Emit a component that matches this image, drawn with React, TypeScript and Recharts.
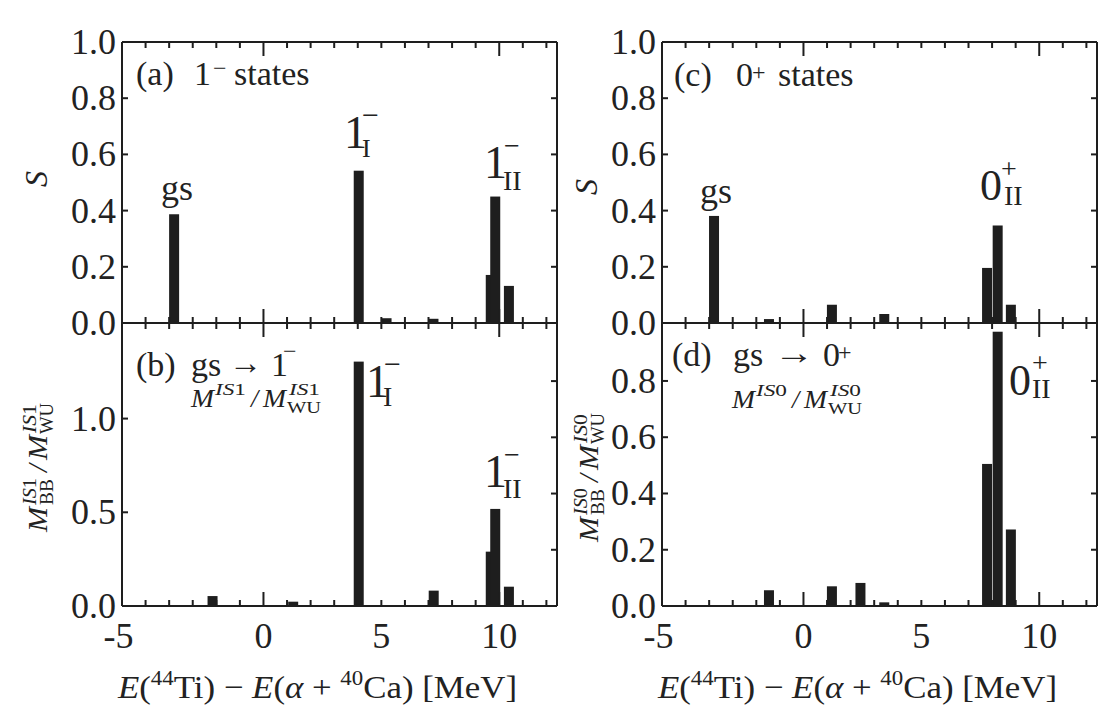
import React from 'react';
import { ComposedChart, Bar, XAxis, YAxis } from 'recharts';

// ---------- data ----------
const xTicks = [-6, -5, -4, -3, -2, -1, 0, 1, 2, 3, 4, 5, 6, 7, 8, 9, 10, 11, 12];
const xLabelTicks = [-5, 0, 5, 10];
const xMajorTicks = [0, 10];
const xDomain = [-6, 12.45];

// (a) 1- states : spectroscopic factor S
const aEnergy = [-3.78, 4.05, 5.23, 7.22, 9.65, 9.84, 10.42];
const aS = [0.387, 0.542, 0.017, 0.015, 0.171, 0.45, 0.132];

// (b) gs -> 1- : M_BB / M_WU
const bEnergy = [-2.15, 1.27, 4.05, 7.23, 9.65, 9.84, 10.42];
const bM = [0.053, 0.023, 1.304, 0.082, 0.29, 0.518, 0.103];

// (c) 0+ states : S
const cEnergy = [-3.78, -1.45, 1.22, 3.44, 7.8, 8.25, 8.81];
const cS = [0.381, 0.014, 0.065, 0.032, 0.196, 0.347, 0.065];

// (d) gs -> 0+ : M_BB / M_WU
const dEnergy = [-1.45, 1.22, 2.43, 3.44, 7.8, 8.25, 8.81];
const dM = [0.056, 0.07, 0.082, 0.013, 0.505, 0.975, 0.272];

const sTicks = [0, 0.2, 0.4, 0.6, 0.8, 1.0];
const sRightTicks = [0.2, 0.4, 0.6, 0.8];
const bLeftTicks = [0, 0.5, 1.0];
const bRightTicks = [0.3, 0.6, 0.9, 1.2];
const dLeftTicks = [0, 0.2, 0.4, 0.6, 0.8];

const toRows = (e: number[], v: number[]) => e.map((x, i) => ({ e: x, v: v[i] }));

// ---------- style ----------
const INK = '#1e1e1e';
const TXT = '#222';
const FONT = "'Liberation Serif', 'DejaVu Serif', serif";
const BAR_W = 10;

const renderXTick = (p: any, dir: number, labels: boolean) => {
  const v = p.payload.value;
  const len = xMajorTicks.includes(v) ? 14 : 6;
  let label = null;
  if (labels && xLabelTicks.includes(v)) {
    label =
      v === -5 ? (
        <text x={p.x - 12} y={p.y + 42} textAnchor="end" fontSize={36} fontFamily={FONT} fill={TXT}>
          -5
        </text>
      ) : (
        <text x={p.x} y={p.y + 42} textAnchor="middle" fontSize={36} fontFamily={FONT} fill={TXT}>
          {String(v)}
        </text>
      );
  }
  return (
    <g>
      <line x1={p.x} x2={p.x} y1={p.y} y2={p.y + dir * len} stroke={INK} strokeWidth={2} />
      {label}
    </g>
  );
};

const renderYTick = (p: any, dir: number, labels: boolean) => {
  const v = p.payload.value;
  return (
    <g>
      <line x1={p.x} x2={p.x + dir * 6} y1={p.y} y2={p.y} stroke={INK} strokeWidth={2} />
      {labels ? (
        <text x={p.x - 6} y={p.y + 12} textAnchor="end" fontSize={36} fontFamily={FONT} fill={TXT}>
          {Number(v).toFixed(1)}
        </text>
      ) : null}
    </g>
  );
};

// fixed-width bar centred on the library-computed bar position
const BarShape = (p: any) => {
  if (p.height == null || p.width == null) return <g />;
  const cx = p.x + p.width / 2;
  return <rect x={cx - BAR_W / 2} y={p.y} width={BAR_W} height={Math.max(p.height, 0)} fill={INK} />;
};

type PanelProps = {
  left: number;
  top: number;
  width: number;
  height: number;
  rows: { e: number; v: number }[];
  yMax: number;
  leftTicks: number[];
  rightTicks: number[];
  xLabels: boolean;
};

const Panel = ({ left, top, width, height, rows, yMax, leftTicks, rightTicks, xLabels }: PanelProps) => {
  const L = 100;
  const R = 10;
  const T = 30;
  const B = 60;
  const axisLine = { stroke: INK, strokeWidth: 2 };
  return (
    <div style={{ position: 'absolute', left: left - L, top: top - T }}>
      <ComposedChart
        width={width + L + R}
        height={height + T + B}
        data={rows}
        margin={{ top: 0, right: 0, bottom: 0, left: 0 }}
      >
        <XAxis
          xAxisId="b"
          dataKey="e"
          type="number"
          domain={xDomain}
          allowDataOverflow
          ticks={xTicks}
          interval={0}
          orientation="bottom"
          height={B}
          tickSize={0}
          tickMargin={0}
          tickLine={false}
          axisLine={axisLine}
          tick={(p: any) => renderXTick(p, -1, xLabels)}
        />
        <XAxis
          xAxisId="t"
          dataKey="e"
          type="number"
          domain={xDomain}
          allowDataOverflow
          ticks={xTicks}
          interval={0}
          orientation="top"
          height={T}
          tickSize={0}
          tickMargin={0}
          tickLine={false}
          axisLine={axisLine}
          tick={(p: any) => renderXTick(p, 1, false)}
        />
        <YAxis
          yAxisId="l"
          type="number"
          domain={[0, yMax]}
          allowDataOverflow
          ticks={leftTicks}
          interval={0}
          width={L}
          tickSize={0}
          tickMargin={0}
          tickLine={false}
          axisLine={axisLine}
          tick={(p: any) => renderYTick(p, 1, true)}
        />
        <YAxis
          yAxisId="r"
          orientation="right"
          type="number"
          domain={[0, yMax]}
          allowDataOverflow
          ticks={rightTicks}
          interval={0}
          width={R}
          tickSize={0}
          tickMargin={0}
          tickLine={false}
          axisLine={axisLine}
          tick={(p: any) => renderYTick(p, -1, false)}
        />
        <Bar
          xAxisId="b"
          yAxisId="l"
          dataKey="v"
          fill={INK}
          barSize={BAR_W}
          shape={BarShape}
          isAnimationActive={false}
        />
      </ComposedChart>
    </div>
  );
};

// ---------- text helpers ----------
const T = ({ x, y, s, i, children, a, len }: any) => (
  <text
    x={x}
    y={y}
    fontSize={s}
    fontStyle={i ? 'italic' : 'normal'}
    fontFamily={FONT}
    fill={TXT}
    textAnchor={a || 'start'}
    textLength={len}
    lengthAdjust={len ? 'spacingAndGlyphs' : undefined}
  >
    {children}
  </text>
);

const Sup = ({ x, y, s, n, len }: any) => (
  <text x={x} y={y} fontSize={s} fontFamily={FONT} fill={TXT} textLength={len} lengthAdjust="spacingAndGlyphs">
    <tspan fontStyle="italic">IS</tspan>
    {n}
  </text>
);

const Ratio = ({ x, y, n }: any) => (
  <g transform={`translate(${x},${y})`}>
    <T x={0} y={0} s={26} i len={23}>M</T>
    <Sup x={24} y={-12} s={17} n={n} len={31} />
    <T x={60} y={0} s={26} i>/</T>
    <T x={72} y={0} s={26} i len={23}>M</T>
    <Sup x={98} y={-12} s={17} n={n} len={31} />
    <T x={96} y={6} s={17} len={34}>WU</T>
  </g>
);

const RotRatio = ({ x, y, n }: any) => (
  <g transform={`translate(${x},${y}) rotate(-90)`}>
    <T x={0} y={0} s={28} i len={25}>M</T>
    <Sup x={27} y={-11} s={18} n={n} len={27} />
    <T x={27} y={6} s={18} len={26}>BB</T>
    <T x={60} y={0} s={28} i>/</T>
    <T x={72} y={0} s={28} i len={25}>M</T>
    <Sup x={99} y={-11} s={18} n={n} len={29} />
    <T x={98} y={6} s={18} len={31}>WU</T>
  </g>
);

const XTitle = ({ x }: any) => (
  <text
    x={x}
    y={698}
    fontSize={32}
    fontFamily={FONT}
    fill={TXT}
    textLength={399}
    lengthAdjust="spacingAndGlyphs"
  >
    <tspan fontStyle="italic">E</tspan>
    <tspan>(</tspan>
    <tspan dy={-13} fontSize={21}>44</tspan>
    <tspan dy={13}>Ti) − </tspan>
    <tspan fontStyle="italic">E</tspan>
    <tspan>(</tspan>
    <tspan fontStyle="italic">α</tspan>
    <tspan> + </tspan>
    <tspan dy={-13} fontSize={21}>40</tspan>
    <tspan dy={13}>Ca) [MeV]</tspan>
  </text>
);

const Overlay = () => (
  <svg
    width={1100}
    height={721}
    style={{ position: 'absolute', left: 0, top: 0, pointerEvents: 'none' }}
  >
    {/* panel (a) */}
    <T x={136} y={85} s={34}>(a)</T>
    <T x={194} y={85} s={34}>1</T>
    <T x={213} y={76} s={24}>−</T>
    <T x={234} y={85} s={34}>states</T>
    <T x={161} y={200} s={36}>gs</T>
    <T x={344} y={148} s={46}>1</T>
    <T x={362} y={157} s={26}>I</T>
    <T x={362} y={125} s={30}>−</T>
    <T x={484} y={178} s={46}>1</T>
    <T x={503} y={190} s={28}>II</T>
    <T x={504} y={155} s={28}>−</T>

    {/* panel (b) */}
    <T x={136} y={376} s={34}>(b)</T>
    <T x={191} y={376} s={34}>gs</T>
    <T x={229} y={374} s={34} len={33}>→</T>
    <T x={271} y={376} s={34}>1</T>
    <T x={283} y={359} s={24}>−</T>
    <Ratio x={191} y={407} n="1" />
    <T x={366} y={397} s={46}>1</T>
    <T x={383} y={406} s={28}>I</T>
    <T x={384} y={374} s={30}>−</T>
    <T x={484} y={487} s={46}>1</T>
    <T x={503} y={498} s={28}>II</T>
    <T x={504} y={464} s={28}>−</T>

    {/* panel (c) */}
    <T x={674} y={86} s={34}>(c)</T>
    <T x={736} y={86} s={34}>0</T>
    <T x={752} y={80} s={24}>+</T>
    <T x={778} y={86} s={34}>states</T>
    <T x={700} y={203} s={36}>gs</T>
    <T x={980} y={200} s={44}>0</T>
    <T x={1004} y={205} s={28}>II</T>
    <T x={1001} y={178} s={28}>+</T>

    {/* panel (d) */}
    <T x={672} y={366} s={34}>(d)</T>
    <T x={733} y={366} s={34}>gs</T>
    <T x={774} y={364} s={34} len={40}>→</T>
    <T x={823} y={366} s={34}>0</T>
    <T x={838} y={360} s={24}>+</T>
    <Ratio x={732} y={408} n="0" />
    <T x={1009} y={395} s={44}>0</T>
    <T x={1032} y={398} s={28}>II</T>
    <T x={1032} y={372} s={28}>+</T>

    {/* y titles */}
    <g transform="translate(47,187) rotate(-90)">
      <T x={0} y={0} s={32} i>S</T>
    </g>
    <g transform="translate(597,195) rotate(-90)">
      <T x={0} y={0} s={32} i>S</T>
    </g>
    <RotRatio x={47} y={532} n="1" />
    <RotRatio x={598} y={542} n="0" />

    {/* x titles */}
    <XTitle x={118} />
    <XTitle x={658} />
  </svg>
);

export default function App() {
  return (
    <div style={{ position: 'absolute', left: 0, top: 0, width: 1100, height: 721, background: '#fff' }}>
      <Panel left={122} top={42} width={435} height={281} rows={toRows(aEnergy, aS)} yMax={1.0} leftTicks={sTicks} rightTicks={sRightTicks} xLabels={false} />
      <Panel left={122} top={323} width={435} height={283} rows={toRows(bEnergy, bM)} yMax={1.51} leftTicks={bLeftTicks} rightTicks={bRightTicks} xLabels={true} />
      <Panel left={662} top={42} width={435} height={281} rows={toRows(cEnergy, cS)} yMax={1.0} leftTicks={sTicks} rightTicks={sRightTicks} xLabels={false} />
      <Panel left={662} top={323} width={435} height={283} rows={toRows(dEnergy, dM)} yMax={1.006} leftTicks={dLeftTicks} rightTicks={sRightTicks} xLabels={true} />
      <Overlay />
    </div>
  );
}
